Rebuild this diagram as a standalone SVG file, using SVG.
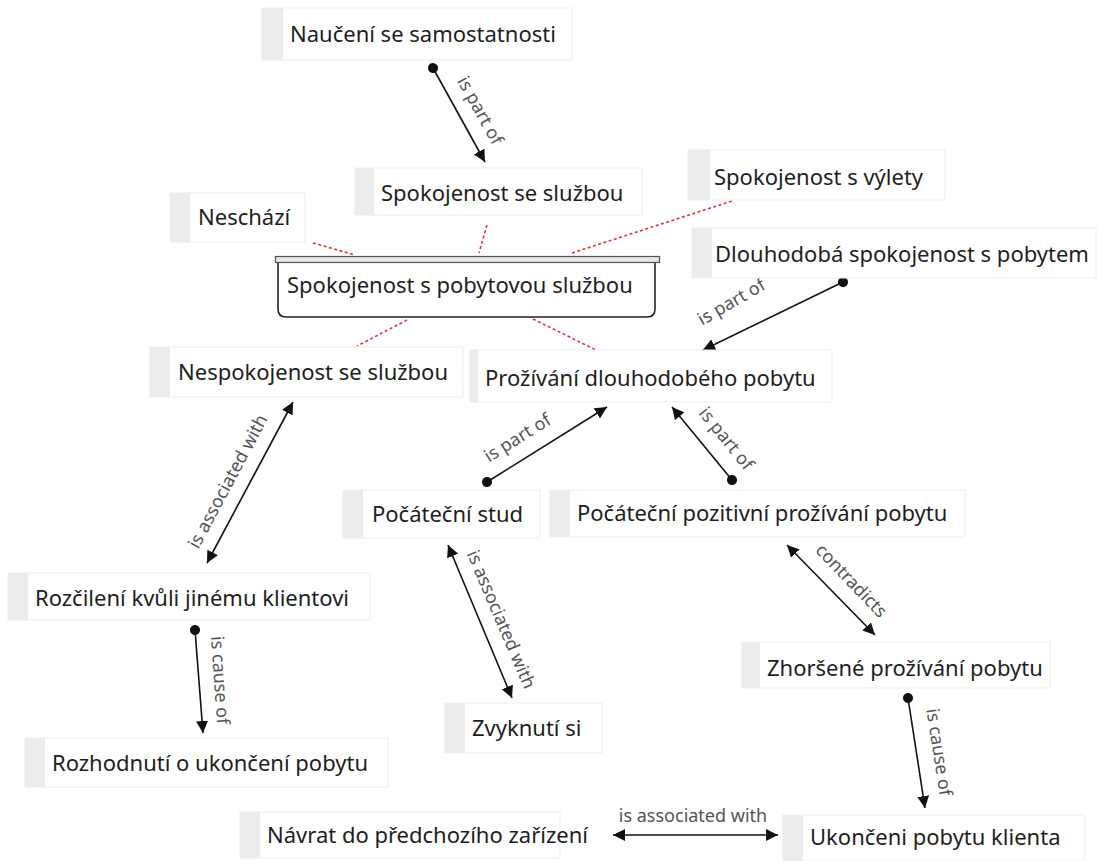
<svg xmlns="http://www.w3.org/2000/svg" width="1097" height="861" viewBox="0 0 1097 861">
  <style>
    .box { fill: #ffffff; stroke: #ededed; stroke-width: 1; }
    .tab { fill: #ececec; }
    .txt { font-family: "Noto Sans", "Open Sans", sans-serif; font-size: 22px; fill: #1e1e1e; dominant-baseline: central; }
    .lbl { font-family: "Noto Sans", "Open Sans", sans-serif; font-size: 18px; fill: #555; text-anchor: middle; dominant-baseline: central; }
    .edge { stroke: #111; stroke-width: 1.6; fill: none; }
    .dash { stroke: #e8303a; stroke-width: 1.6; stroke-dasharray: 3 2.5; fill: none; }
  </style>
  <defs>
    <marker id="arrow" viewBox="0 0 12 12" refX="12" refY="6" markerWidth="12" markerHeight="12" markerUnits="userSpaceOnUse" orient="auto-start-reverse">
      <path d="M0,0 L12,6 L0,12 Z" fill="#111"/>
    </marker>
    <marker id="dot" viewBox="0 0 12 12" refX="6" refY="6" markerWidth="11" markerHeight="11" markerUnits="userSpaceOnUse" orient="auto">
      <circle cx="6" cy="6" r="5.5" fill="#111"/>
    </marker>
  </defs>

  <!-- connectors -->
  <g id="connectors">
    <!-- dotted links to the central node -->
    <line class="dash" x1="313" y1="243" x2="355" y2="255"/>
    <line class="dash" x1="487" y1="225" x2="479" y2="253"/>
    <line class="dash" x1="572" y1="253" x2="732" y2="201"/>
    <line class="dash" x1="407" y1="320" x2="357" y2="346"/>
    <line class="dash" x1="533" y1="319" x2="596" y2="350"/>

    <line class="edge" x1="433" y1="68" x2="485" y2="162" marker-start="url(#dot)" marker-end="url(#arrow)"/>
    <text class="lbl" transform="translate(481,110) rotate(61)">is part of</text>

    <line class="edge" x1="843" y1="282" x2="703" y2="350" marker-start="url(#dot)" marker-end="url(#arrow)"/>
    <text class="lbl" transform="translate(731,301) rotate(-30)">is part of</text>

    <line class="edge" x1="487" y1="482" x2="607" y2="407" marker-start="url(#dot)" marker-end="url(#arrow)"/>
    <text class="lbl" transform="translate(517,437) rotate(-32)">is part of</text>

    <line class="edge" x1="732" y1="480" x2="672" y2="407" marker-start="url(#dot)" marker-end="url(#arrow)"/>
    <text class="lbl" transform="translate(727,438) rotate(51)">is part of</text>

    <line class="edge" x1="207" y1="563" x2="293" y2="402" marker-start="url(#arrow)" marker-end="url(#arrow)"/>
    <text class="lbl" transform="translate(227,481) rotate(-62)">is associated with</text>

    <line class="edge" x1="195" y1="630" x2="203" y2="733" marker-start="url(#dot)" marker-end="url(#arrow)"/>
    <text class="lbl" transform="translate(221,680) rotate(86)">is cause of</text>

    <line class="edge" x1="448" y1="545" x2="512" y2="698" marker-start="url(#arrow)" marker-end="url(#arrow)"/>
    <text class="lbl" transform="translate(502,619) rotate(67)">is associated with</text>

    <line class="edge" x1="787" y1="545" x2="875" y2="635" marker-start="url(#arrow)" marker-end="url(#arrow)"/>
    <text class="lbl" transform="translate(852,580) rotate(46)">contradicts</text>

    <line class="edge" x1="908" y1="698" x2="925" y2="808" marker-start="url(#dot)" marker-end="url(#arrow)"/>
    <text class="lbl" transform="translate(940,752) rotate(81)">is cause of</text>

    <line class="edge" x1="613" y1="835" x2="778" y2="835" marker-start="url(#arrow)" marker-end="url(#arrow)"/>
    <text class="lbl" x="693" y="815">is associated with</text>
  </g>

  <!-- nodes -->
  <g id="n-samostatnost">
    <rect class="box" x="262" y="8" width="310" height="52"/>
    <rect class="tab" x="262" y="8" width="21" height="52"/>
    <text class="txt" x="290" y="33">Naučení se samostatnosti</text>
  </g>
  <g id="n-spok-sluzba">
    <rect class="box" x="355" y="168" width="287" height="47"/>
    <rect class="tab" x="355" y="168" width="19" height="47"/>
    <text class="txt" x="381" y="192">Spokojenost se službou</text>
  </g>
  <g id="n-neschazi">
    <rect class="box" x="170" y="193" width="135" height="49"/>
    <rect class="tab" x="170" y="193" width="20" height="49"/>
    <text class="txt" x="198" y="216">Neschází</text>
  </g>
  <g id="n-vylety">
    <rect class="box" x="688" y="150" width="257" height="50"/>
    <rect class="tab" x="688" y="150" width="22" height="50"/>
    <text class="txt" x="714" y="176">Spokojenost s výlety</text>
  </g>
  <g id="n-dlouhodoba">
    <rect class="box" x="692" y="228" width="404" height="50"/>
    <rect class="tab" x="692" y="228" width="20" height="50"/>
    <text class="txt" x="715" y="253">Dlouhodobá spokojenost s pobytem</text>
  </g>
  <g id="n-central">
    <path d="M278,262 L278,309 Q278,317 286,317 L647,317 Q655,317 655,309 L655,262" fill="#fff" stroke="#222" stroke-width="1.6"/>
    <rect x="275.5" y="256.5" width="384" height="6" fill="#e6e6e6" stroke="#555" stroke-width="1.2"/>
    <text class="txt" x="287" y="284">Spokojenost s pobytovou službou</text>
  </g>
  <g id="n-nespokojenost">
    <rect class="box" x="150" y="347" width="313" height="50"/>
    <rect class="tab" x="150" y="347" width="20" height="50"/>
    <text class="txt" x="178" y="371">Nespokojenost se službou</text>
  </g>
  <g id="n-prozivani">
    <rect class="box" x="470" y="350" width="362" height="52"/>
    <rect class="tab" x="470" y="350" width="8" height="52"/>
    <text class="txt" x="485" y="377">Prožívání dlouhodobého pobytu</text>
  </g>
  <g id="n-stud">
    <rect class="box" x="343" y="490" width="197" height="48"/>
    <rect class="tab" x="343" y="490" width="20" height="48"/>
    <text class="txt" x="372" y="513">Počáteční stud</text>
  </g>
  <g id="n-pozitivni">
    <rect class="box" x="550" y="490" width="415" height="47"/>
    <rect class="tab" x="550" y="490" width="20" height="47"/>
    <text class="txt" x="577" y="512">Počáteční pozitivní prožívání pobytu</text>
  </g>
  <g id="n-rozcileni">
    <rect class="box" x="8" y="573" width="362" height="47"/>
    <rect class="tab" x="8" y="573" width="20" height="47"/>
    <text class="txt" x="35" y="597">Rozčilení kvůli jinému klientovi</text>
  </g>
  <g id="n-zhorsene">
    <rect class="box" x="742" y="642" width="308" height="46"/>
    <rect class="tab" x="742" y="642" width="18" height="46"/>
    <text class="txt" x="767" y="667">Zhoršené prožívání pobytu</text>
  </g>
  <g id="n-zvyknuti">
    <rect class="box" x="445" y="703" width="157" height="50"/>
    <rect class="tab" x="445" y="703" width="20" height="50"/>
    <text class="txt" x="472" y="727">Zvyknutí si</text>
  </g>
  <g id="n-rozhodnuti">
    <rect class="box" x="25" y="738" width="363" height="49"/>
    <rect class="tab" x="25" y="738" width="20" height="49"/>
    <text class="txt" x="52" y="762">Rozhodnutí o ukončení pobytu</text>
  </g>
  <g id="n-navrat">
    <rect class="box" x="240" y="812" width="320" height="46"/>
    <rect class="tab" x="240" y="812" width="20" height="46"/>
    <text class="txt" x="267" y="834">Návrat do předchozího zařízení</text>
  </g>
  <g id="n-ukonceni">
    <rect class="box" x="783" y="815" width="302" height="46"/>
    <rect class="tab" x="783" y="815" width="20" height="46"/>
    <text class="txt" x="810" y="836">Ukončeni pobytu klienta</text>
  </g>
</svg>
